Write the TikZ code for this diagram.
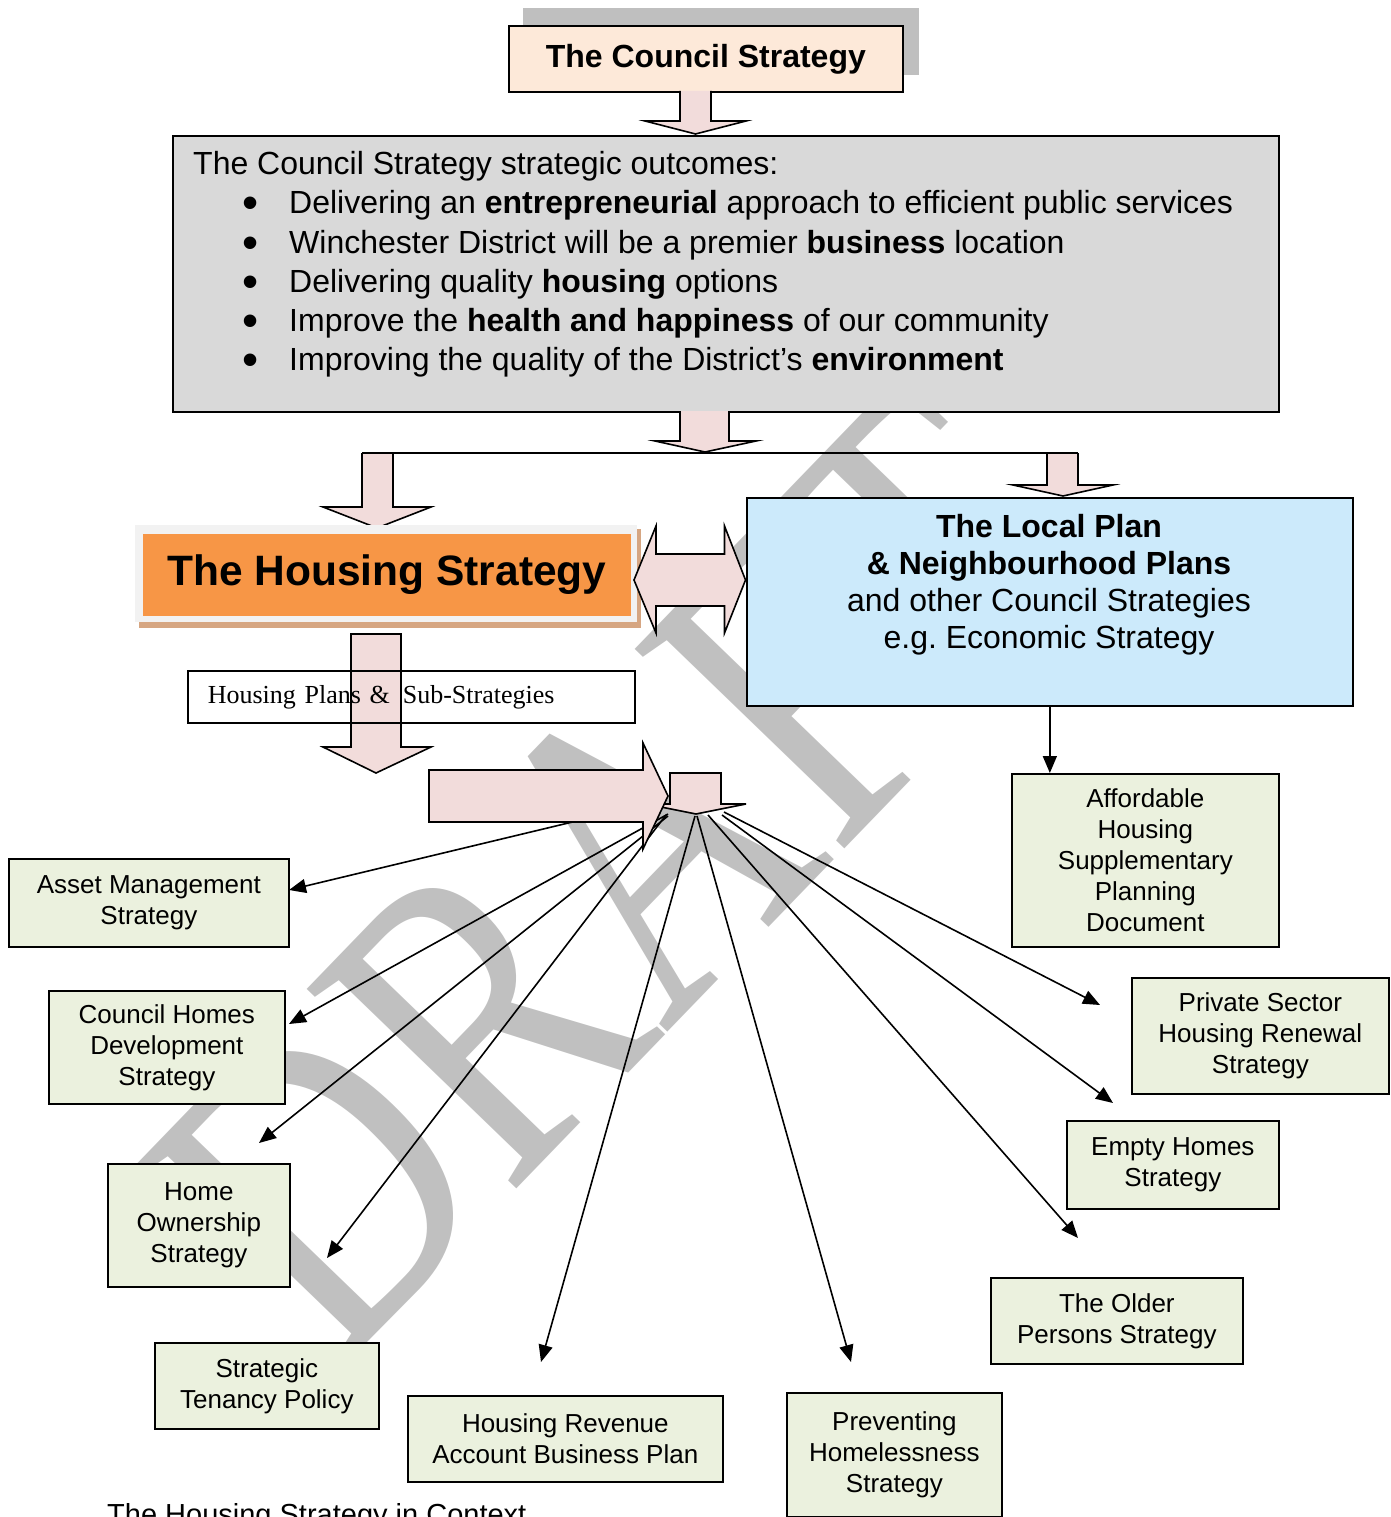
\documentclass[tikz,border=0pt]{standalone}
\usepackage{fontspec}
\setmainfont{Liberation Sans}
\newfontfamily\seriffont{Liberation Serif}
\usetikzlibrary{arrows.meta}
\frenchspacing

\definecolor{peach}{HTML}{FDE9D9}
\definecolor{shadowgray}{HTML}{BFBFBF}
\definecolor{outgray}{HTML}{D9D9D9}
\definecolor{arrowpink}{HTML}{F2DCDB}
\definecolor{hsorange}{HTML}{F79646}
\definecolor{framegray}{HTML}{F2F2F2}
\definecolor{tanshadow}{HTML}{D6A682}
\definecolor{lightblue}{HTML}{CCEAFB}
\definecolor{boxgreen}{HTML}{EBF1DE}
\definecolor{wmgray}{HTML}{C0C0C0}

\newcommand{\bul}{\makebox[47pt][l]{\raisebox{-5pt}{\fontsize{46}{39}\selectfont\textbullet}}}

\begin{document}
\begin{tikzpicture}[x=1pt,y=-1pt,
    box/.style={draw,line width=1.7pt,inner sep=0pt,anchor=north west},
    greenbox/.style={box,fill=boxgreen,align=center,font=\fontsize{26}{31}\selectfont},
    blockarrow/.style={draw,fill=arrowpink,line width=1.6pt,line join=miter},
    fan/.style={line width=1.6pt,-{Triangle[length=17pt,width=14pt]}},
    outline/.style={font=\fontsize{32}{39}\selectfont,anchor=base west,inner sep=0pt}]

        \useasboundingbox (0,0) rectangle (1391,1517);
        \clip (0,0) rectangle (1391,1517);

        % Watermark
        \node[rotate=46,yscale=1.3,text=wmgray,font=\seriffont\fontsize{340}{340}\selectfont] (draft) at (620,872) {DRAFT};

        % Council strategy
        \fill[shadowgray] (523,8) rectangle (919,75);
        \node[box,fill=peach,minimum width=394pt,minimum height=66pt,font=\bfseries\fontsize{32}{32}\selectfont] (council) at (508,25) {The Council Strategy};

        % Strategic outcomes
        \node[box,fill=outgray,line width=1.9pt,minimum width=1106pt,minimum height=276pt] (outcomes) at (172,135) {};
        \node[outline] (o0) at (193,175) {The Council Strategy strategic outcomes:};
        \node[outline] (o1) at (242,214) {\bul Delivering an \textbf{entrepreneurial} approach to efficient public services};
        \node[outline] (o2) at (242,253) {\bul Winchester District will be a premier \textbf{business} location};
        \node[outline] (o3) at (242,292) {\bul Delivering quality \textbf{housing} options};
        \node[outline] (o4) at (242,331) {\bul Improve the \textbf{health and happiness} of our community};
        \node[outline] (o5) at (242,370) {\bul Improving the quality of the District’s \textbf{environment}};

        % Block arrows down
        \draw[blockarrow] (680,91) -- (680,121) -- (645,121) -- (695.5,134) -- (746,121) -- (711,121) -- (711,91);
        \draw[blockarrow] (680,411) -- (680,441) -- (655,441) -- (705,452) -- (756,441) -- (729,441) -- (729,411);
        \coordinate (splitleft) at (362,453);
        \coordinate (splitright) at (1078,453);
        \draw[blockarrow] (362,453) -- (362,507) -- (323,507) -- (377,528) -- (431,507) -- (393,507) -- (393,453);
        \draw[blockarrow] (1047,453) -- (1047,485) -- (1013,485) -- (1063,496) -- (1113,485) -- (1078,485) -- (1078,453);
        \draw[line width=1.6pt] (splitleft) -- (splitright);

        % Housing strategy
        \fill[tanshadow] (139,529) rectangle (641,628);
        \fill[framegray] (135,525) rectangle (637,622);
        \node[box,draw=none,fill=hsorange,minimum width=488pt,minimum height=82pt,font=\bfseries\fontsize{42.5}{42.5}\selectfont] (housing) at (142,533) {The Housing Strategy};

        % Two way arrow
        \draw[blockarrow] (634,580) -- (656,526) -- (656,554) -- (724.5,554) -- (724.5,526) -- (745.5,580)
          -- (724.5,633) -- (724.5,606) -- (656,606) -- (656,633) -- cycle;

        % Local plan
        \node[box,fill=lightblue,minimum width=606pt,minimum height=208pt] (localplan) at (746,497) {};
        \node[anchor=north,align=center,inner sep=0pt,font=\fontsize{32}{37}\selectfont] (lptext) at (1049,514)
          {\textbf{The Local Plan}\\\textbf{\& Neighbourhood Plans}\\and other Council Strategies\\e.g. Economic Strategy};

        % Fan of sub-strategy arrows
        \foreach \n/\sx/\sy/\tx/\ty in {asset/660/801/289/890, homes/668/814/289/1024, own1/668/816/259/1143,
            own2/666/815/327/1258, revenue/695/816/541/1362, prevent/697/816/851/1362,
            older/708/815/1078/1238, empty/722/815/1113/1103, private/724/812/1100/1005}{
          \coordinate (from\n) at (\sx,\sy);
          \coordinate (to\n) at (\tx,\ty);
          \draw[fan] (from\n) -- (to\n);
        }

        \draw[blockarrow] (670,773) -- (670,804) -- (646,804) -- (696,814) -- (746,804) -- (721,804) -- (721,773) -- cycle;
        \draw[blockarrow] (429,770) -- (643,770) -- (643,743) -- (668,796) -- (643,849) -- (643,822) -- (429,822) -- cycle;
        \draw[blockarrow] (351,634) -- (351,747) -- (323,747) -- (376,773) -- (431,747) -- (401,747) -- (401,634) -- cycle;

        % Housing plans
        \node[box,minimum height=52pt,text width=407pt,inner xsep=20pt,align=left,font=\seriffont\fontsize{26}{30}\selectfont] (plans) at (187,670) {Housing Plans \&\hspace{13pt}Sub-Strategies};

        % Sub-strategy boxes
        \foreach \n/\x/\y/\w/\h/\t in {asset/8/858/280/88/{Asset Management\\Strategy},
            homes/48/990/236/113/{Council Homes\\Development\\Strategy},
            own/107/1163/182/123/{Home\\Ownership\\Strategy},
            tenancy/154/1342/224/86/{Strategic\\Tenancy Policy},
            revenue/407/1395/315/86/{Housing Revenue\\Account Business Plan},
            prevent/786/1392/215/124/{Preventing\\Homelessness\\Strategy},
            older/990/1277/252/86/{The Older\\Persons Strategy},
            empty/1066/1120/212/88/{Empty Homes\\Strategy},
            private/1131/977/257/116/{Private Sector\\Housing Renewal\\Strategy},
            afford/1011/773/267/173/{Affordable\\Housing\\Supplementary\\Planning\\Document}}{
          \node[greenbox,minimum width=\w pt,minimum height=\h pt] (\n box) at (\x,\y) {\t};
        }

        \draw[fan] (localplan.south) -- (localplan.south |- affordbox.north);

        % Caption
        \node[anchor=base west,inner sep=0pt,font=\fontsize{29}{31}\selectfont] (caption) at (107,1524) {The Housing Strategy in Context};
      \end{tikzpicture}
\end{document}
